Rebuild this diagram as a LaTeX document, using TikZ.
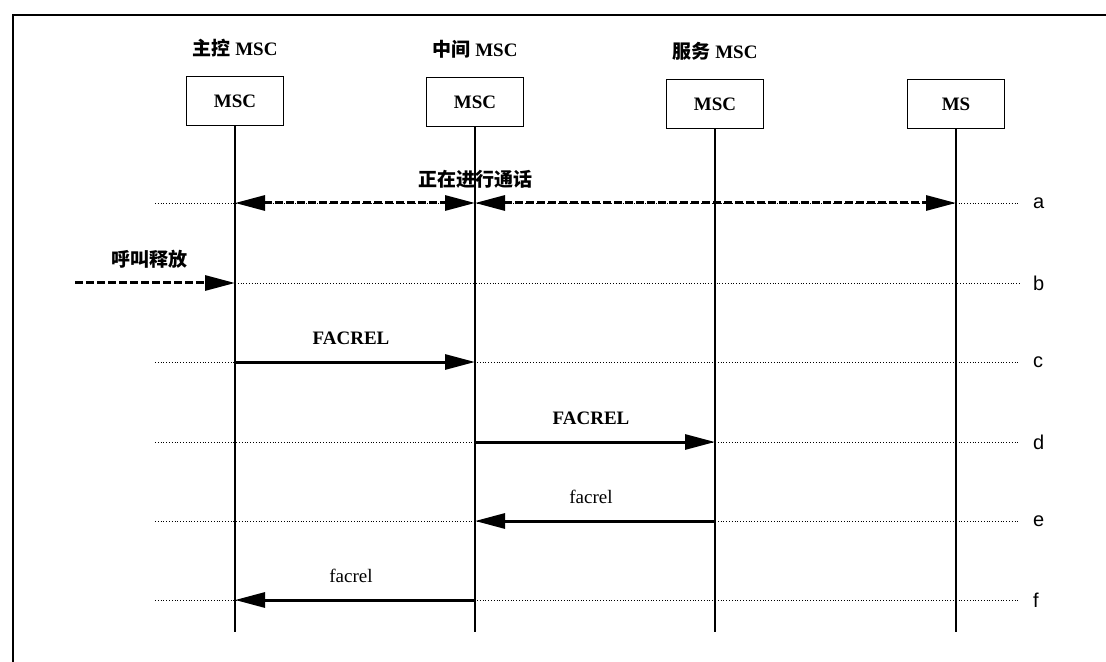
\documentclass[tikz,border=0pt]{standalone}
\usepackage{fontspec}
\setmainfont{Liberation Serif}
\newfontfamily\cjkfont{Noto Sans CJK SC}
\newfontfamily\stepfont{Liberation Sans}
\usetikzlibrary{arrows.meta,positioning}

\begin{document}
\begin{tikzpicture}[x=0.5pt,y=-0.5pt,
    font=\fontsize{9.5}{11}\selectfont,
    entity/.style={draw, line width=0.6pt, minimum width=48.5pt, minimum height=24.5pt, inner sep=0pt, font=\fontsize{9.5}{11}\selectfont\bfseries},
    role/.style={inner sep=0pt, font=\fontsize{9.5}{11}\selectfont},
    lifeline/.style={line width=0.7pt},
    guide/.style={line width=0.4pt, densely dotted},
    msg/.style={line width=1.5pt, -{Triangle[length=15pt,width=7.5pt]}},
    dashmsg/.style={msg, dash pattern=on 4pt off 1.5pt},
    talk/.style={dashmsg, {Triangle[length=15pt,width=7.5pt]}-{Triangle[length=15pt,width=7.5pt]}},
    msglabel/.style={inner sep=0pt, yshift=12pt}]
    \useasboundingbox (0,0) rectangle (1106,662);

    % frame
    \draw[line width=1.2pt] (13,700) |- (1150,15);

    % entities
    \node[entity] (zk) at (235,101) {MSC};
    \node[entity] (zj) at (475,102) {MSC};
    \node[entity] (fw) at (715,104) {MSC};
    \node[entity] (ms) at (956,104) {MS};
    \node[role, above=14pt of zk.north, anchor=center] {{\cjkfont\bfseries 主控} \textbf{MSC}};
    \node[role, above=14pt of zj.north, anchor=center] {{\cjkfont\bfseries 中间} \textbf{MSC}};
    \node[role, above=14pt of fw.north, anchor=center] {{\cjkfont\bfseries 服务} \textbf{MSC}};

    % lifelines and steps
    \foreach \l/\x in {zk/235, zj/475, fw/715, ms/956} {
        \coordinate (\l-end) at (\x,632);
        \foreach \s/\y in {a/203, b/283, c/362, d/442, e/521, f/600}
            \coordinate (\l-\s) at (\x,\y);
    }
    \foreach \l in {zk, zj, fw, ms}
        \draw[lifeline] (\l) -- (\l-end);

    \foreach \s/\y in {a/203, b/283, c/362, d/442, e/521, f/600} {
        \coordinate (left-\s) at (155,\y);
        \coordinate (right-\s) at (1020,\y);
    }
    \foreach \s in {a, c, d, e, f}
        \draw[guide] (left-\s) -- (right-\s);
    \draw[guide] (zk-b) -- (right-b);
    \foreach \s in {a, b, c, d, e, f}
        \node[font=\stepfont\fontsize{10}{12}\selectfont, anchor=west] at (right-\s) [xshift=3pt] {\s};

    % messages
    \draw[talk] (zk-a) -- (zj-a);
    \draw[talk] (zj-a) -- (ms-a);
    \node[msglabel] at (zj-a) {\cjkfont\bfseries 正在进行通话};

    \coordinate (ext-b) at (75,283);
    \draw[dashmsg] (ext-b) -- (zk-b)
        node[msglabel, midway, xshift=-3pt] {\cjkfont\bfseries 呼叫释放};

    \draw[msg] (zk-c) -- (zj-c) node[msglabel, midway, xshift=-2pt] {\textbf{FACREL}};
    \draw[msg] (zj-d) -- (fw-d) node[msglabel, midway, xshift=-2pt] {\textbf{FACREL}};
    \draw[msg] (fw-e) -- (zj-e) node[msglabel, midway, xshift=-2pt] {facrel};
    \draw[msg] (zj-f) -- (zk-f) node[msglabel, midway, xshift=-2pt] {facrel};
\end{tikzpicture}
\end{document}
